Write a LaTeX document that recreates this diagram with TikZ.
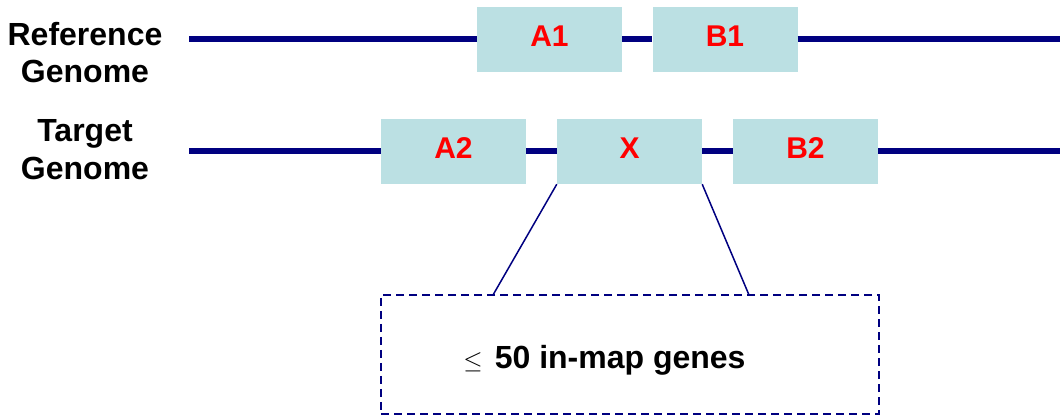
\documentclass[tikz,border=0pt]{standalone}
\usepackage{fontspec}
\setmainfont{Liberation Sans}
\definecolor{navy}{RGB}{0,0,128}
\definecolor{genebox}{RGB}{187,224,227}
\definecolor{genered}{RGB}{255,0,0}
\begin{document}
\begin{tikzpicture}[x=1pt,y=-1pt,
  genome/.style={draw=navy,line width=6pt},
  block/.style={fill=genebox,draw=none,minimum width=145pt,minimum height=65pt,
    inner sep=0pt,text=genered,text depth=6pt,
    font=\fontsize{30}{30}\selectfont\bfseries},
  rowlabel/.style={anchor=base,inner sep=0pt,font=\fontsize{32}{32}\selectfont\bfseries},
  zoomline/.style={draw=navy,line width=1.5pt},
  region/.style={draw=navy,line width=1.5pt,dash pattern=on 8pt off 5pt,
    minimum width=498pt,minimum height=119pt,inner sep=0pt}]
\useasboundingbox (0,0) rectangle (1060,419);

% row labels
\node[rowlabel] (reflabA) at (85,46) {Reference};
\node[rowlabel] (reflabB) at (85,83) {Genome};
\node[rowlabel] (tarlabA) at (85,142) {Target};
\node[rowlabel] (tarlabB) at (85,180) {Genome};

% genome ends
\coordinate (refstart) at (189,39.5);
\coordinate (refend) at (1060,39.5);
\coordinate (tarstart) at (189,151.5);
\coordinate (tarend) at (1060,151.5);

% blocks
\node[block] (A1) at (549.5,39.5) {A1};
\node[block] (B1) at (725,39.5) {B1};
\node[block] (A2) at (453.5,151.5) {A2};
\node[block] (X) at (629.5,151.5) {X};
\node[block] (B2) at (805.5,151.5) {B2};

% reference genome backbone
\draw[genome] (refstart) -- (A1.west);
\draw[genome] (A1.east) -- (B1.west);
\draw[genome] (B1.east) -- (refend);

% target genome backbone
\draw[genome] (tarstart) -- (A2.west);
\draw[genome] (A2.east) -- (X.west);
\draw[genome] (X.east) -- (B2.west);
\draw[genome] (B2.east) -- (tarend);

% expanded region
\node[region] (detail) at (630,354.5) {};
\node[anchor=base,inner sep=0pt,font=\fontsize{32}{32}\selectfont\bfseries] (note) at (604.5,369)
  {{\fontsize{26}{26}\selectfont$\leq$}\hspace{12pt}50 in-map genes};

\coordinate (zl) at (493,295);
\coordinate (zr) at (749,295);
\draw[zoomline] (X.south west) -- (zl);
\draw[zoomline] (X.south east) -- (zr);
\end{tikzpicture}
\end{document}
